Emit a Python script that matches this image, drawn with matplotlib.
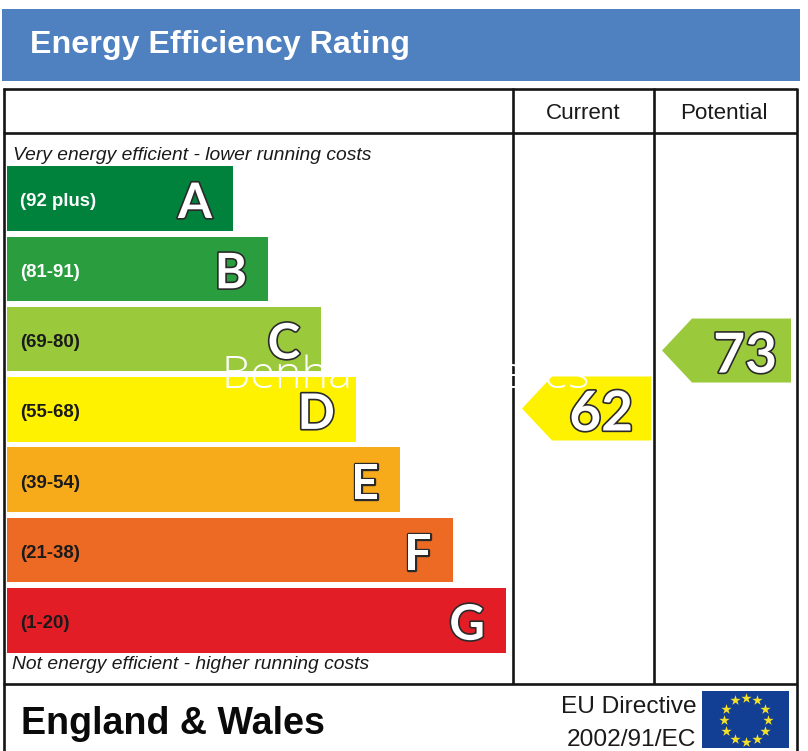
import numpy as np
import matplotlib
matplotlib.use('Agg')
import matplotlib.pyplot as plt
import matplotlib.patheffects as pe
from matplotlib.patches import Polygon, Rectangle

# EPC bands
band_letters = ['A', 'B', 'C', 'D', 'E', 'F', 'G']
band_ranges = ['(92 plus)', '(81-91)', '(69-80)', '(55-68)', '(39-54)', '(21-38)', '(1-20)']
band_ends = [233, 268, 321, 356, 400, 453, 506]
band_colors = ['#00823c', '#2a9e3f', '#9aca3c', '#fff200', '#f7ab1b', '#ec6a24', '#e31d25']
range_colors = ['white', 'white', '#1a1a1a', '#1a1a1a', '#1a1a1a', '#1a1a1a', '#1a1a1a']

columns = ['Current', 'Potential']
ratings = [62, 73]
rating_colors = ['#fff200', '#9aca3c']

SANS = 'Liberation Sans'
LETTER = 'Lato'

fig = plt.figure(figsize=(8.08, 7.51), dpi=100)
ax = fig.add_axes([0, 0, 1, 1])
ax.set_xlim(0, 808)
ax.set_ylim(751, 0)
ax.axis('off')


def px(size):
    return size * 0.72


# header strip
ax.add_patch(Rectangle((2, 9), 798, 72, color='#4f81c1', lw=0))
ax.text(30, 53, 'Energy Efficiency Rating', color='white', family=SANS, weight='bold',
        fontsize=px(32.3), va='baseline', ha='left')

# table frame
frame = dict(color='#141414', lw=1.9, solid_capstyle='butt')
ax.plot([3, 797], [89, 89], **frame)
ax.plot([3, 797], [132.5, 132.5], **frame)
ax.plot([3, 797], [684, 684], **frame)
ax.plot([3.5, 3.5], [88, 751], **frame)
ax.plot([797, 797], [88, 751], **frame)
ax.plot([513, 513], [88, 684], **frame)
ax.plot([654, 654], [88, 684], **frame)

for name, xc in zip(columns, [583, 724]):
    ax.text(xc, 119, name, family=SANS, fontsize=px(22.4), color='#1a1a1a', ha='center', va='baseline')

# bands
rows = np.arange(len(band_letters))
y_centers = 198.5 + rows * 70.3
ax.barh(y_centers, np.array(band_ends) - 7, left=7, height=64.5, color=band_colors, lw=0)

outline = [pe.withStroke(linewidth=2.4, foreground='#2a2a2a')]
for y, end, letter, rng, col in zip(y_centers, band_ends, band_letters, band_ranges, range_colors):
    ax.text(20, y + 8, rng, family=SANS, weight='bold', fontsize=px(18.6), color=col, va='baseline')
    ax.text(end - 21, y + 19.5, letter, family=LETTER, weight='bold', fontsize=px(49), color='white',
            ha='right', va='baseline', path_effects=outline)

ax.text(13, 160, 'Very energy efficient - lower running costs', family=SANS, style='italic',
        fontsize=px(19.3), color='#1a1a1a', va='baseline')
ax.text(12, 669, 'Not energy efficient - higher running costs', family=SANS, style='italic',
        fontsize=px(19.3), color='#1a1a1a', va='baseline')


# rating arrows sit on the vertical scale of the bands
def rating_y(value):
    return 408.5 - (value - 62) * 5.27


for value, color, right, pad in zip(ratings, rating_colors, [651, 791], [18, 14]):
    y = rating_y(value)
    pts = [(right, y - 32), (right - 99, y - 32), (right - 129, y), (right - 99, y + 32), (right, y + 32)]
    ax.add_patch(Polygon(pts, closed=True, color=color, lw=0))
    ax.text(right - pad, y + 22, str(value), family=LETTER, weight='bold', fontsize=px(55), color='white',
            ha='right', va='baseline', path_effects=outline)

# agency mark across the middle of the chart
ax.text(222, 388, 'Benham & Reeves', family='Open Sans', weight='light', fontsize=px(45.2), color='white',
        va='baseline', ha='left')

# footer
ax.text(21, 734, 'England & Wales', family=SANS, weight='bold', fontsize=px(37.6), color='#0a0a0a', va='baseline')
ax.text(697, 713, 'EU Directive', family=SANS, fontsize=px(24.5), color='#1a1a1a', ha='right', va='baseline')
ax.text(696, 746, '2002/91/EC', family=SANS, fontsize=px(24.5), color='#1a1a1a', ha='right', va='baseline')

# EU flag with its ring of twelve stars
ax.add_patch(Rectangle((702, 691), 87, 57, color='#123f93', lw=0))
angles = np.deg2rad(np.arange(12) * 30)
ax.scatter(745.5 + 22 * np.sin(angles), 719.5 - 22 * np.cos(angles), marker='*', s=60, color='#f5e02a', lw=0)

fig.savefig('out.png', dpi=100)
